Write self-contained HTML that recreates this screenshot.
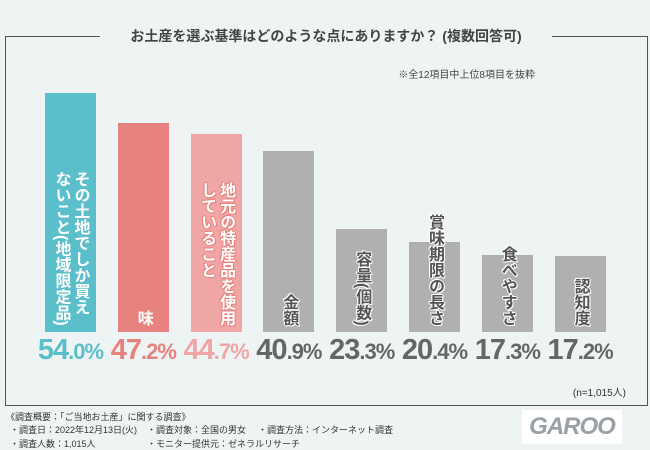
<!DOCTYPE html>
<html><head><meta charset="utf-8"><style>
body{margin:0;width:650px;height:450px;background:#eef4f4;font-family:"Liberation Sans","Noto Sans CJK JP",sans-serif;position:relative;overflow:hidden}
.frame{position:absolute;left:5px;top:36px;height:368px;border:1px solid #555}
.title{position:absolute;left:100px;top:27px;width:452px;text-align:center;background:#eef4f4;font-size:14px;font-weight:bold;color:#444;line-height:18px;white-space:nowrap}
.note{position:absolute;right:115px;top:66px;font-size:10px;color:#444}
.bar{position:absolute;width:51px}
.lab{position:absolute;writing-mode:vertical-rl;font-size:16px;font-weight:bold;line-height:19px;white-space:nowrap}
.pct{position:absolute;top:334px;width:92px;text-align:center;font-weight:bold;font-size:29px;letter-spacing:-1px}
.pct small{font-size:22px}
.foot{position:absolute;font-size:9px;color:#333;white-space:nowrap}
</style></head><body>
<div class="frame" style="width:641px"></div>
<div class="title">お土産を選ぶ基準はどのような点にありますか？ (複数回答可)</div>
<div class="note">※全12項目中上位8項目を抜粋</div>
<div id="chart"></div>
<div class="foot" style="right:24px;top:384px;font-size:10px">(n=1,015人)</div>
<div class="foot" style="left:6px;top:410px">《調査概要：「ご当地お土産」に関する調査》</div>
<div class="foot" style="left:10px;top:423px">・調査日：2022年12月13日(火)</div>
<div class="foot" style="left:147px;top:423px">・調査対象：全国の男女</div>
<div class="foot" style="left:258px;top:423px">・調査方法：インターネット調査</div>
<div class="foot" style="left:10px;top:437px">・調査人数：1,015人</div>
<div class="foot" style="left:147px;top:437px">・モニター提供元：ゼネラルリサーチ</div>
<div style="position:absolute;left:522px;top:410px;width:100px;height:34px;background:#fff;color:#9aa0a6;font:bold italic 24px 'Liberation Sans',sans-serif;text-align:center;line-height:34px;letter-spacing:-1px">GAROO</div>
<script>
const categories=["その土地でしか買えないこと(地域限定品)","味","地元の特産品を使用していること","金額","容量(個数)","賞味期限の長さ","食べやすさ","認知度"];
const values=[54.0,47.2,44.7,40.9,23.3,20.4,17.3,17.2];
const labels=[["その土地でしか買え","ないこと(地域限定品)"],["味"],["地元の特産品を使用","していること"],["金額"],["容量(個数)"],["賞味期限の長さ"],["食べやすさ"],["認知度"]];
const colors=["#5bbfcb","#e8827f","#f0a6a4","#b0b0b0","#b0b0b0","#b0b0b0","#b0b0b0","#b0b0b0"];
const textColors=["#5bbfcb","#e8827f","#e8827f","#555","#555","#555","#555","#555"];
const base=332, scale=4.43, x0=45, step=72.8;
const y=v=>base-v*scale;
const c=document.getElementById('chart');
values.forEach((v,i)=>{
  const b=document.createElement('div');
  b.className='bar';
  
  
  b.style.left=(x0+i*step)+'px';b.style.top=y(v)+'px';b.style.height=(base-y(v))+'px';b.style.background=colors[i];
  c.appendChild(b);
  const l=document.createElement('div');
  l.className='lab';
  
  
  l.innerHTML=labels[i].join('<br>');
  const gray=i>=3;
  l.style.color=gray?'#555':'#fff';
  const s=gray?'#fff':textColors[i];
  l.style.textShadow=`1px 0 ${s},-1px 0 ${s},0 1px ${s},0 -1px ${s},1px 1px ${s},-1px -1px ${s}`;
  l.style.bottom=(450-326)+'px';
  l.style.left=(x0+i*step+25.5-labels[i].length*9.5)+'px';
  c.appendChild(l);
  const p=document.createElement('div');
  p.className='pct';
  
  
  const str=v.toFixed(1).split('.');
  p.innerHTML=str[0]+'<small>.'+str[1]+'%</small>';
  p.style.left=(x0+i*step-20.5)+'px';
  p.style.color=i<3?colors[i]:'#666';
  c.appendChild(p);
});
</script>
</body></html>
